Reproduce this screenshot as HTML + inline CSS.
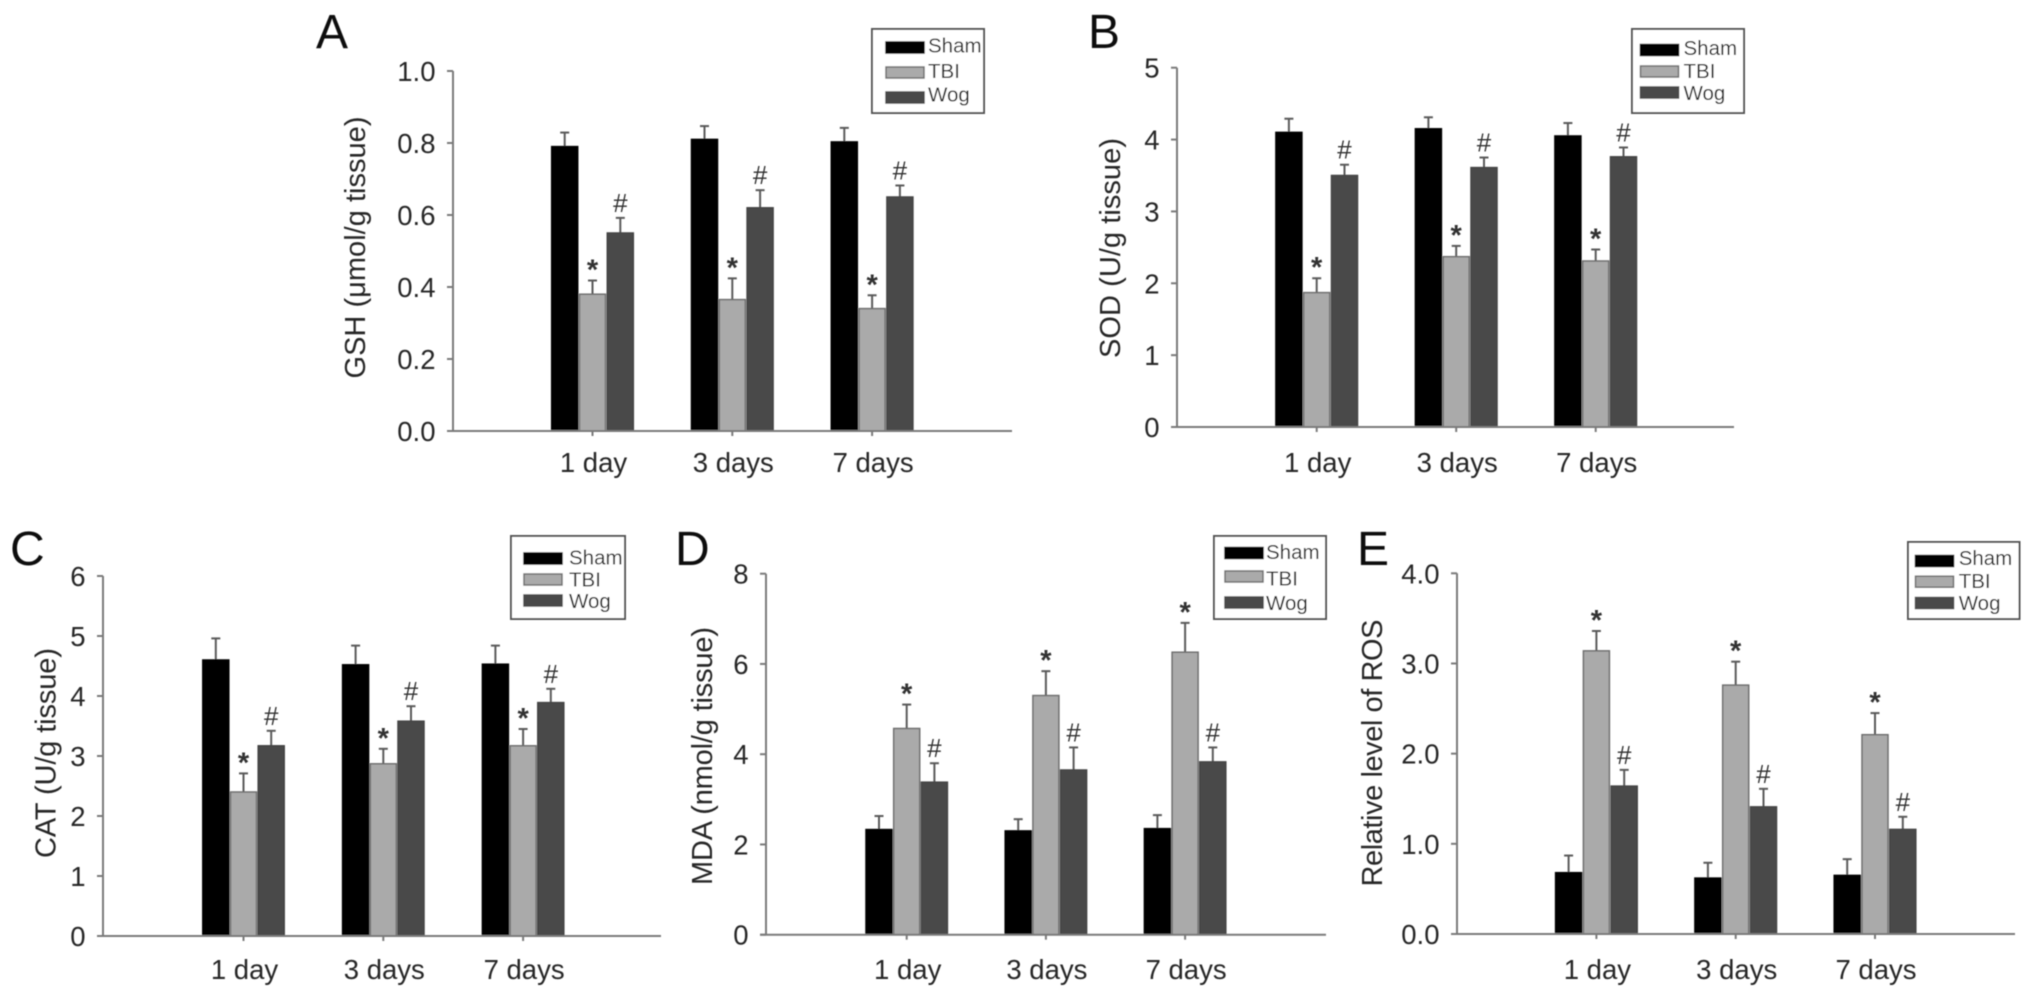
<!DOCTYPE html>
<html lang="en">
<head>
<meta charset="utf-8">
<title>Oxidative stress markers after TBI</title>
<style>
html,body{margin:0;padding:0;background:#fff;}
svg{display:block;font-family:"Liberation Sans",Arial,sans-serif;}
</style>
</head>
<body>
<svg id="figure" xmlns="http://www.w3.org/2000/svg" width="2032" height="998" viewBox="0 0 2032 998">
<defs><filter id="soft" x="-2%" y="-2%" width="104%" height="104%"><feGaussianBlur stdDeviation="0.65"/></filter></defs>
<rect width="2032" height="998" fill="#fff"/>
<g id="root" filter="url(#soft)"></g>
</svg>
<script>
const categories = ['1 day', '3 days', '7 days'];
const seriesNames = ['Sham', 'TBI', 'Wog'];

const gshTicks = ['0.0', '0.2', '0.4', '0.6', '0.8', '1.0'];
const gshSham = [0.79, 0.81, 0.803];
const gshTbi = [0.38, 0.365, 0.34];
const gshWog = [0.55, 0.62, 0.65];
const gshShamUpper = [0.829, 0.847, 0.842];
const gshTbiUpper = [0.418, 0.424, 0.377];
const gshWogUpper = [0.592, 0.669, 0.682];

const sodTicks = ['0', '1', '2', '3', '4', '5'];
const sodSham = [4.10, 4.15, 4.05];
const sodTbi = [1.87, 2.37, 2.31];
const sodWog = [3.50, 3.61, 3.76];
const sodShamUpper = [4.29, 4.31, 4.23];
const sodTbiUpper = [2.07, 2.52, 2.47];
const sodWogUpper = [3.65, 3.75, 3.89];

const catTicks = ['0', '1', '2', '3', '4', '5', '6'];
const catSham = [4.60, 4.52, 4.53];
const catTbi = [2.40, 2.87, 3.17];
const catWog = [3.17, 3.58, 3.89];
const catShamUpper = [4.96, 4.84, 4.84];
const catTbiUpper = [2.71, 3.12, 3.45];
const catWogUpper = [3.42, 3.83, 4.12];

const mdaTicks = ['0', '2', '4', '6', '8'];
const mdaSham = [2.33, 2.30, 2.35];
const mdaTbi = [4.57, 5.30, 6.26];
const mdaWog = [3.38, 3.65, 3.83];
const mdaShamUpper = [2.63, 2.56, 2.65];
const mdaTbiUpper = [5.10, 5.84, 6.91];
const mdaWogUpper = [3.80, 4.15, 4.15];

const rosTicks = ['0.0', '1.0', '2.0', '3.0', '4.0'];
const rosSham = [0.68, 0.62, 0.65];
const rosTbi = [3.14, 2.76, 2.21];
const rosWog = [1.64, 1.41, 1.16];
const rosShamUpper = [0.87, 0.79, 0.83];
const rosTbiUpper = [3.36, 3.02, 2.45];
const rosWogUpper = [1.82, 1.61, 1.30];

const SVGNS = 'http://www.w3.org/2000/svg';
const root = document.getElementById('root');
const FILLS = ['#000000', '#aaaaaa', '#4a4a4a'];
const STROKES = ['#000000', '#6e6e6e', '#444444'];
const AXIS = '#7a7a7a';
const INK = '#262626';

function make(parent, tag, props, text) {
  const node = document.createElementNS(SVGNS, tag);
  Object.keys(props).forEach(function (k) { node.setAttribute(k, props[k]); });
  if (text !== undefined) node.textContent = text;
  parent.appendChild(node);
  return node;
}

function drawPanel(p) {
  const g = make(root, 'g', {});
  
  

  const maxValue = parseFloat(p.ticks[p.ticks.length - 1]);
  const yScale = function (v) { return p.bottom - (v / maxValue) * (p.bottom - p.top); };
  const groupCenter = function (i) { return p.first + i * p.step; };
  const barX = function (i, s) { return groupCenter(i) + (s - 1) * p.pitch; };

  const letter = make(g, 'text', { x: p.letterX, y: p.letterY, 'font-size': 48, fill: '#111' }, p.letter);
  
  

  p.series.forEach(function (values, s) {
    values.forEach(function (v, i) {
      const cx = barX(i, s);
      const top = yScale(v);
      const upper = yScale(p.uppers[s][i]);

      const stem = make(g, 'line', { x1: cx, x2: cx, y1: top, y2: upper, stroke: '#5a5a5a', 'stroke-width': 2 });
      
      

      const cap = make(g, 'line', { x1: cx - 4.5, x2: cx + 4.5, y1: upper, y2: upper, stroke: '#5a5a5a', 'stroke-width': 2 });
      
      

      const bar = make(g, 'rect', { x: cx - 13, y: top, width: 26, height: p.bottom - top, fill: FILLS[s], stroke: STROKES[s], 'stroke-width': 1.5 });
      
      

      if (s > 0) {
        const sig = make(g, 'text', {
          x: cx, y: s === 1 ? upper - 1 : upper - 6,
          'text-anchor': 'middle', 'font-size': s === 1 ? 29 : 26, fill: '#333',
          'font-weight': s === 1 ? 'bold' : 'normal'
        }, s === 1 ? '*' : '#');
        
        
      }
    });
  });

  const yAxis = make(g, 'line', { x1: p.left, x2: p.left, y1: p.top, y2: p.bottom, stroke: AXIS, 'stroke-width': 2 });
  
  

  const xAxis = make(g, 'line', { x1: p.left - 6, x2: p.right, y1: p.bottom, y2: p.bottom, stroke: AXIS, 'stroke-width': 2 });
  
  

  p.ticks.forEach(function (t) {
    const y = yScale(parseFloat(t));
    const mark = make(g, 'line', { x1: p.left - 6, x2: p.left, y1: y, y2: y, stroke: AXIS, 'stroke-width': 2 });
    
    
    const lab = make(g, 'text', { x: p.left - 17.5, y: y + 10, 'text-anchor': 'end', 'font-size': 27.5, fill: INK }, t);
    
    
  });

  categories.forEach(function (c, i) {
    const x = groupCenter(i);
    const mark = make(g, 'line', { x1: x, x2: x, y1: p.bottom, y2: p.bottom + 5, stroke: AXIS, 'stroke-width': 2 });
    
    
    const lab = make(g, 'text', { x: x + 1, y: p.labelY, 'text-anchor': 'middle', 'font-size': 27.5, fill: INK }, c);
    
    
  });

  const title = make(g, 'text', {
    transform: 'translate(' + p.titleX + ' ' + p.titleY + ') rotate(-90)',
    'text-anchor': 'middle', 'font-size': 29, fill: INK,
    textLength: p.titleLen, lengthAdjust: 'spacing'
  }, p.title);
  
  

  const legend = make(g, 'g', {});
  
  
  const box = make(legend, 'rect', { x: p.box[0], y: p.box[1], width: p.box[2], height: p.box[3], fill: '#fff', stroke: '#555', 'stroke-width': 2 });
  
  
  seriesNames.forEach(function (name, s) {
    const sw = make(legend, 'rect', { x: p.swatchX, y: p.swatchY[s], width: 38, height: 11, fill: FILLS[s], stroke: STROKES[s], 'stroke-width': 1.5 });
    
    
    const tx = make(legend, 'text', { x: p.textX, y: p.textY[s], 'font-size': 20.5, fill: INK }, name);
    
    
  });
}

drawPanel({
  key: 'gsh', letter: 'A', letterX: 316, letterY: 48,
  ticks: gshTicks, series: [gshSham, gshTbi, gshWog], uppers: [gshShamUpper, gshTbiUpper, gshWogUpper],
  left: 453, right: 1012, top: 71, bottom: 431, first: 592.5, step: 139.8, pitch: 27.8, labelY: 472,
  title: 'GSH (\u03bcmol/g tissue)', titleX: 365, titleY: 247.5, titleLen: 262,
  box: [872, 29, 112, 84], swatchX: 886, swatchY: [42, 67, 92], textX: 928, textY: [52.7, 78, 101.7]
});
drawPanel({
  key: 'sod', letter: 'B', letterX: 1088, letterY: 48,
  ticks: sodTicks, series: [sodSham, sodTbi, sodWog], uppers: [sodShamUpper, sodTbiUpper, sodWogUpper],
  left: 1177, right: 1734, top: 67.7, bottom: 427, first: 1316.7, step: 139.5, pitch: 27.8, labelY: 472,
  title: 'SOD (U/g tissue)', titleX: 1120, titleY: 248, titleLen: 220,
  box: [1632, 29, 112, 84], swatchX: 1640.5, swatchY: [44.5, 66, 87], textX: 1683.5, textY: [55, 78, 100]
});
drawPanel({
  key: 'cat', letter: 'C', letterX: 10, letterY: 565,
  ticks: catTicks, series: [catSham, catTbi, catWog], uppers: [catShamUpper, catTbiUpper, catWogUpper],
  left: 103, right: 661, top: 576, bottom: 936, first: 243.5, step: 139.8, pitch: 27.7, labelY: 979,
  title: 'CAT (U/g tissue)', titleX: 55.5, titleY: 753, titleLen: 210,
  box: [511, 536, 114, 83], swatchX: 524, swatchY: [553, 574, 595], textX: 569, textY: [564.3, 586.7, 608]
});
drawPanel({
  key: 'mda', letter: 'D', letterX: 675, letterY: 565,
  ticks: mdaTicks, series: [mdaSham, mdaTbi, mdaWog], uppers: [mdaShamUpper, mdaTbiUpper, mdaWogUpper],
  left: 766, right: 1326, top: 573.7, bottom: 934.7, first: 906.7, step: 139.2, pitch: 27.7, labelY: 979,
  title: 'MDA (nmol/g tissue)', titleX: 712, titleY: 756, titleLen: 258,
  box: [1214, 536, 112, 83], swatchX: 1225, swatchY: [547.5, 571, 597], textX: 1266, textY: [559, 585.7, 610]
});
drawPanel({
  key: 'ros', letter: 'E', letterX: 1357, letterY: 565,
  ticks: rosTicks, series: [rosSham, rosTbi, rosWog], uppers: [rosShamUpper, rosTbiUpper, rosWogUpper],
  left: 1457, right: 2015, top: 573.3, bottom: 934, first: 1596.4, step: 139.3, pitch: 27.8, labelY: 979,
  title: 'Relative level of ROS', titleX: 1382, titleY: 753, titleLen: 267,
  box: [1908, 542, 111.5, 77], swatchX: 1915.5, swatchY: [555.5, 576.2, 597.5], textX: 1958.7, textY: [565, 588, 610]
});
</script>
</body>
</html>
